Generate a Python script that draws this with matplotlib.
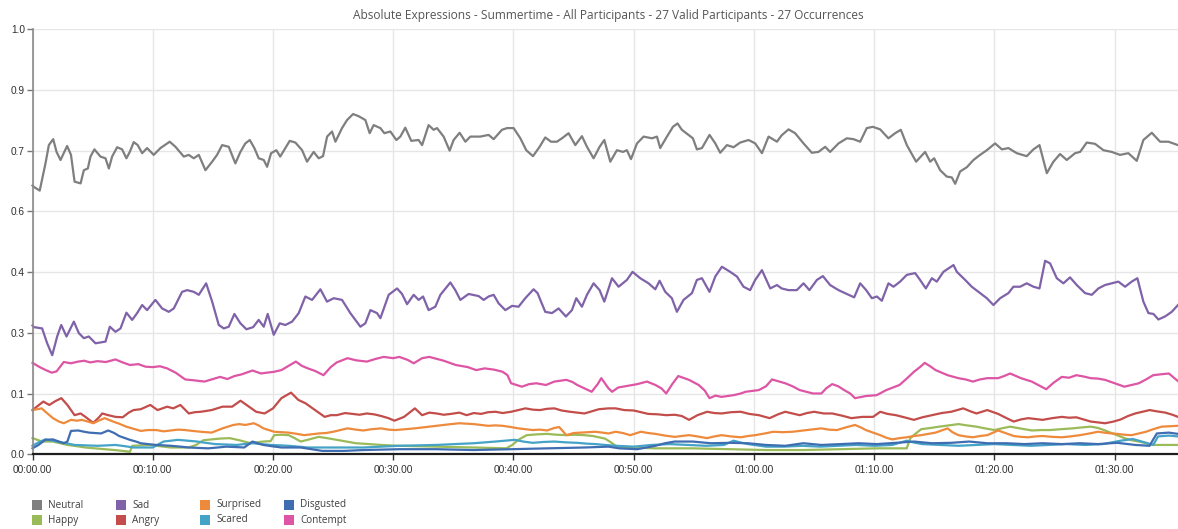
import matplotlib
matplotlib.use("Agg")
import matplotlib.pyplot as plt
from matplotlib import font_manager
from matplotlib.patches import Rectangle
from matplotlib.ticker import FixedLocator, FixedFormatter

# ---- data: time in minutes, value as fraction of participants ----
neutral_t = [0.0, 0.1, 0.6, 1.08, 1.36, 1.72, 2.0, 2.33, 2.6, 2.88, 3.2, 3.5, 4.0, 4.27, 4.6, 4.82, 5.15, 5.65,
             6.07, 6.35, 6.62, 7.04, 7.45, 7.81, 8.09, 8.42, 8.75, 9.12, 9.53, 10.08, 10.64, 11.41, 11.89, 12.58,
             12.99, 13.41, 13.83, 14.38, 14.94, 15.35, 15.77, 16.32, 16.87, 17.29, 17.7, 18.07, 18.45, 18.81,
             19.23, 19.51, 19.84, 20.28, 20.6, 21.03, 21.39, 21.86, 22.42, 22.83, 23.38, 23.8, 24.16, 24.5, 24.91,
             25.19, 25.74, 26.16, 26.66, 27.12, 27.68, 28.04, 28.37, 28.93, 29.26, 29.76, 30.26, 30.59, 31.0,
             31.5, 32.11, 32.4, 32.94, 33.36, 33.64, 34.19, 34.69, 35.02, 35.52, 36.0, 36.41, 37.24, 37.93, 38.35,
             39.04, 39.46, 40.01, 40.57, 41.06, 41.62, 42.17, 42.64, 43.12, 43.61, 44.03, 44.58, 45.14, 45.69,
             46.11, 46.66, 47.16, 47.55, 48.05, 48.6, 49.1, 49.43, 49.77, 50.27, 50.82, 51.51, 51.93, 52.2, 52.76,
             53.26, 53.64, 54.0, 54.56, 54.92, 55.25, 55.67, 56.3, 56.78, 57.19, 57.75, 58.3, 58.85, 59.55, 60.1,
             60.66, 61.21, 61.91, 62.3, 62.87, 63.42, 64.12, 64.81, 65.36, 65.92, 66.33, 67.03, 67.72, 68.27,
             68.83, 69.38, 69.88, 70.49, 71.18, 71.74, 72.21, 72.71, 73.48, 74.23, 74.65, 74.98, 75.48, 76.03,
             76.45, 76.73, 77.14, 77.7, 78.25, 78.8, 79.36, 80.05, 80.61, 81.16, 81.85, 82.68, 83.24, 83.74,
             84.35, 84.9, 85.45, 86.01, 86.7, 87.12, 87.67, 88.36, 89.06, 89.75, 90.44, 91.13, 91.83, 92.38,
             93.08, 93.77, 94.46, 95.26]
neutral_v = [0.632, 0.629, 0.620, 0.684, 0.727, 0.741, 0.711, 0.692, 0.708, 0.725, 0.704, 0.641, 0.637, 0.668,
             0.672, 0.700, 0.717, 0.700, 0.696, 0.672, 0.700, 0.722, 0.717, 0.696, 0.711, 0.734, 0.727, 0.708,
             0.720, 0.704, 0.720, 0.735, 0.723, 0.700, 0.704, 0.696, 0.704, 0.668, 0.688, 0.704, 0.727, 0.723,
             0.684, 0.711, 0.731, 0.739, 0.720, 0.696, 0.692, 0.676, 0.708, 0.715, 0.700, 0.720, 0.737, 0.733,
             0.715, 0.688, 0.711, 0.696, 0.701, 0.747, 0.759, 0.735, 0.767, 0.786, 0.800, 0.795, 0.786, 0.755,
             0.774, 0.767, 0.755, 0.759, 0.739, 0.747, 0.768, 0.737, 0.739, 0.727, 0.774, 0.763, 0.767, 0.747,
             0.714, 0.739, 0.756, 0.735, 0.747, 0.747, 0.751, 0.741, 0.763, 0.767, 0.767, 0.743, 0.715, 0.701,
             0.723, 0.745, 0.735, 0.735, 0.743, 0.755, 0.727, 0.748, 0.723, 0.696, 0.723, 0.739, 0.688, 0.715,
             0.711, 0.715, 0.694, 0.731, 0.747, 0.743, 0.747, 0.720, 0.747, 0.770, 0.778, 0.763, 0.751, 0.743,
             0.717, 0.720, 0.751, 0.731, 0.709, 0.727, 0.722, 0.733, 0.739, 0.731, 0.708, 0.747, 0.735, 0.750,
             0.764, 0.755, 0.731, 0.709, 0.711, 0.723, 0.711, 0.731, 0.743, 0.741, 0.735, 0.767, 0.770, 0.764,
             0.743, 0.755, 0.763, 0.727, 0.688, 0.711, 0.688, 0.696, 0.668, 0.653, 0.651, 0.636, 0.665, 0.675,
             0.692, 0.704, 0.715, 0.731, 0.717, 0.720, 0.708, 0.701, 0.717, 0.727, 0.661, 0.688, 0.706, 0.692,
             0.708, 0.711, 0.733, 0.730, 0.715, 0.711, 0.704, 0.708, 0.690, 0.739, 0.756, 0.735, 0.735, 0.727]

sad_t = [0.0, 0.11, 0.8, 1.22, 1.64, 2.05, 2.39, 2.83, 3.44, 3.85, 4.27, 4.68, 5.24, 6.07, 6.43, 6.9, 7.32, 7.81,
         8.29, 8.7, 9.12, 9.53, 10.22, 10.78, 11.33, 11.75, 12.44, 12.86, 13.41, 13.83, 14.44, 14.94, 15.49,
         15.91, 16.32, 16.79, 17.29, 17.79, 18.35, 18.81, 19.23, 19.56, 20.06, 20.56, 21.03, 21.59, 22.14, 22.69,
         23.25, 23.94, 24.49, 25.05, 25.74, 26.43, 27.27, 27.68, 28.1, 28.65, 28.93, 29.62, 30.32, 30.73, 31.15,
         31.7, 32.11, 32.48, 32.94, 33.5, 33.92, 34.75, 35.16, 35.58, 36.27, 37.1, 37.52, 37.93, 38.35, 38.76,
         39.32, 39.88, 40.42, 40.98, 41.67, 42.0, 42.64, 43.2, 43.75, 44.36, 44.86, 45.22, 45.69, 46.11, 46.66,
         47.16, 47.55, 48.19, 48.74, 49.43, 49.9, 50.54, 51.23, 51.79, 52.15, 52.62, 53.17, 53.59, 54.14, 54.84,
         55.25, 55.67, 56.3, 56.78, 57.33, 58.02, 58.58, 59.13, 59.68, 60.1, 60.66, 61.35, 61.91, 62.3, 62.87,
         63.56, 64.12, 64.61, 65.23, 65.73, 66.33, 67.03, 67.72, 68.33, 68.83, 69.33, 69.8, 70.22, 70.63, 71.18,
         71.6, 72.15, 72.71, 73.4, 73.81, 74.29, 74.79, 75.2, 75.75, 76.59, 76.87, 77.56, 78.11, 78.67, 79.36,
         79.91, 80.47, 81.16, 81.57, 82.13, 82.68, 83.24, 83.74, 84.21, 84.62, 85.18, 85.73, 86.28, 86.84, 87.53,
         88.09, 88.64, 89.19, 89.75, 90.3, 90.86, 91.41, 91.88, 92.38, 92.8, 93.22, 93.63, 94.18, 94.74, 95.26]
sad_v = [0.303, 0.299, 0.296, 0.261, 0.233, 0.277, 0.304, 0.277, 0.312, 0.285, 0.273, 0.277, 0.261, 0.265, 0.300,
         0.288, 0.296, 0.333, 0.316, 0.332, 0.351, 0.339, 0.363, 0.343, 0.335, 0.343, 0.382, 0.386, 0.382, 0.375,
         0.402, 0.359, 0.304, 0.296, 0.300, 0.330, 0.308, 0.294, 0.299, 0.316, 0.300, 0.330, 0.281, 0.308, 0.304,
         0.312, 0.332, 0.371, 0.363, 0.388, 0.359, 0.367, 0.363, 0.332, 0.300, 0.308, 0.339, 0.332, 0.320, 0.375,
         0.390, 0.377, 0.353, 0.375, 0.363, 0.371, 0.339, 0.347, 0.375, 0.404, 0.386, 0.363, 0.377, 0.372, 0.363,
         0.371, 0.375, 0.355, 0.339, 0.349, 0.347, 0.367, 0.388, 0.379, 0.335, 0.332, 0.343, 0.324, 0.339, 0.367,
         0.347, 0.375, 0.402, 0.386, 0.359, 0.414, 0.394, 0.410, 0.429, 0.414, 0.402, 0.388, 0.408, 0.382, 0.367,
         0.335, 0.363, 0.379, 0.410, 0.414, 0.382, 0.418, 0.441, 0.429, 0.418, 0.394, 0.386, 0.410, 0.433, 0.390,
         0.398, 0.390, 0.386, 0.386, 0.402, 0.386, 0.410, 0.419, 0.398, 0.386, 0.377, 0.369, 0.402, 0.386, 0.367,
         0.371, 0.361, 0.402, 0.394, 0.406, 0.422, 0.426, 0.410, 0.390, 0.414, 0.406, 0.429, 0.445, 0.429, 0.410,
         0.394, 0.382, 0.367, 0.351, 0.367, 0.379, 0.394, 0.394, 0.402, 0.394, 0.390, 0.455, 0.449, 0.414, 0.402,
         0.416, 0.398, 0.379, 0.375, 0.390, 0.398, 0.402, 0.406, 0.394, 0.406, 0.414, 0.359, 0.332, 0.330, 0.317,
         0.324, 0.335, 0.351]

contempt_t = [0.0, 0.6, 1.1, 1.6, 2.0, 2.6, 3.2, 3.8, 4.3, 4.8, 5.4, 6.1, 6.9, 7.5, 8.1, 8.8, 9.4, 10.0, 10.6,
              11.2, 11.9, 12.7, 13.4, 14.3, 14.9, 15.6, 16.2, 16.8, 17.4, 18.3, 19.0, 19.5, 20.1, 20.7, 21.3,
              21.9, 22.4, 22.9, 23.5, 24.2, 24.8, 25.3, 26.2, 26.9, 27.8, 28.5, 29.2, 30.0, 30.5, 31.2, 31.7,
              32.4, 33.0, 34.2, 35.2, 36.2, 36.9, 37.6, 38.4, 39.1, 39.5, 39.8, 40.7, 41.3, 41.9, 42.7, 43.4,
              44.4, 44.9, 45.3, 45.9, 46.5, 47.0, 47.3, 47.9, 48.2, 48.7, 49.1, 49.7, 50.3, 51.1, 51.8, 52.3,
              52.7, 53.2, 53.7, 54.1, 54.6, 55.4, 55.9, 56.3, 56.8, 57.3, 58.3, 58.9, 59.3, 60.4, 61.0, 61.5,
              62.0, 62.6, 63.2, 63.8, 64.9, 65.6, 66.0, 66.5, 67.0, 67.5, 68.0, 68.4, 69.3, 70.2, 71.0, 72.1,
              72.7, 73.3, 73.8, 74.2, 74.7, 75.1, 76.1, 77.0, 77.6, 78.2, 78.8, 79.4, 80.3, 80.8, 81.3, 81.7,
              82.2, 83.1, 83.7, 84.3, 84.9, 85.6, 86.2, 86.8, 87.4, 88.0, 88.6, 89.2, 90.0, 90.8, 91.4, 92.0,
              92.6, 93.2, 93.8, 94.5, 95.26]
contempt_v = [0.215, 0.205, 0.198, 0.192, 0.195, 0.217, 0.214, 0.218, 0.220, 0.216, 0.219, 0.217, 0.223, 0.216,
              0.210, 0.212, 0.206, 0.205, 0.207, 0.202, 0.192, 0.176, 0.174, 0.171, 0.176, 0.182, 0.177, 0.184,
              0.188, 0.197, 0.190, 0.192, 0.194, 0.198, 0.208, 0.218, 0.208, 0.202, 0.196, 0.186, 0.205, 0.216,
              0.226, 0.221, 0.218, 0.224, 0.229, 0.226, 0.229, 0.222, 0.214, 0.226, 0.229, 0.220, 0.210, 0.205,
              0.198, 0.202, 0.199, 0.194, 0.186, 0.167, 0.159, 0.165, 0.167, 0.163, 0.171, 0.175, 0.170, 0.163,
              0.155, 0.147, 0.165, 0.179, 0.155, 0.147, 0.157, 0.159, 0.162, 0.165, 0.171, 0.163, 0.155, 0.143,
              0.165, 0.184, 0.180, 0.175, 0.163, 0.150, 0.132, 0.138, 0.135, 0.139, 0.143, 0.147, 0.151, 0.160,
              0.176, 0.172, 0.167, 0.160, 0.151, 0.143, 0.143, 0.155, 0.165, 0.160, 0.151, 0.143, 0.132, 0.137,
              0.139, 0.151, 0.163, 0.178, 0.194, 0.205, 0.215, 0.206, 0.198, 0.186, 0.179, 0.176, 0.171, 0.176,
              0.179, 0.179, 0.184, 0.190, 0.185, 0.179, 0.171, 0.162, 0.153, 0.168, 0.182, 0.180, 0.186, 0.183,
              0.179, 0.178, 0.175, 0.167, 0.159, 0.163, 0.167, 0.176, 0.186, 0.188, 0.190, 0.172]

angry_t = [0.0, 0.9, 1.4, 1.9, 2.4, 2.9, 3.5, 4.0, 4.4, 5.05, 5.5, 5.8, 6.3, 6.9, 7.5, 8.0, 8.4, 9.0, 9.8, 10.4,
           11.2, 11.7, 12.3, 13.0, 13.5, 14.0, 14.9, 15.8, 16.6, 17.3, 18.0, 18.6, 19.3, 20.0, 20.7, 21.5, 22.1,
           22.7, 23.5, 24.3, 24.8, 25.3, 26.0, 26.6, 27.2, 27.8, 28.4, 29.0, 29.6, 30.1, 30.9, 31.8, 32.4, 33.0,
           33.6, 34.2, 34.8, 35.5, 36.1, 36.7, 37.3, 37.9, 38.5, 39.1, 39.8, 40.4, 41.0, 41.6, 42.2, 42.8, 43.4,
           44.0, 44.7, 45.3, 45.9, 46.5, 47.1, 47.9, 48.5, 49.2, 50.0, 50.6, 51.2, 52.0, 52.7, 53.4, 54.0, 54.6,
           55.3, 56.1, 56.7, 57.3, 58.1, 58.9, 59.6, 60.4, 61.3, 62.0, 62.6, 63.2, 63.8, 64.4, 65.0, 65.8, 66.5,
           67.3, 68.1, 69.0, 69.9, 70.5, 71.1, 71.8, 72.5, 73.3, 74.0, 74.8, 75.6, 76.4, 77.4, 78.0, 78.5, 79.4,
           80.3, 81.0, 81.6, 82.2, 82.8, 83.4, 84.0, 84.8, 85.6, 86.2, 86.8, 87.4, 88.0, 88.6, 89.2, 89.9, 90.5,
           91.1, 91.7, 92.3, 92.9, 93.5, 94.2, 94.8, 95.26]
angry_v = [0.104, 0.124, 0.116, 0.125, 0.132, 0.116, 0.092, 0.096, 0.088, 0.074, 0.086, 0.096, 0.092, 0.088, 0.087,
           0.098, 0.104, 0.106, 0.116, 0.104, 0.112, 0.108, 0.116, 0.096, 0.099, 0.100, 0.104, 0.112, 0.112, 0.126,
           0.112, 0.100, 0.096, 0.108, 0.132, 0.145, 0.128, 0.120, 0.104, 0.088, 0.092, 0.092, 0.097, 0.095, 0.093,
           0.096, 0.094, 0.090, 0.085, 0.079, 0.088, 0.108, 0.092, 0.098, 0.096, 0.093, 0.095, 0.098, 0.092, 0.097,
           0.095, 0.099, 0.100, 0.097, 0.100, 0.104, 0.108, 0.105, 0.104, 0.107, 0.108, 0.103, 0.100, 0.098, 0.096,
           0.101, 0.106, 0.108, 0.108, 0.104, 0.103, 0.099, 0.095, 0.094, 0.092, 0.093, 0.090, 0.081, 0.092, 0.100,
           0.097, 0.096, 0.099, 0.100, 0.095, 0.092, 0.085, 0.094, 0.100, 0.096, 0.092, 0.097, 0.100, 0.096, 0.096,
           0.091, 0.085, 0.088, 0.088, 0.100, 0.095, 0.092, 0.087, 0.081, 0.087, 0.092, 0.097, 0.100, 0.108, 0.101,
           0.096, 0.104, 0.095, 0.085, 0.077, 0.082, 0.085, 0.083, 0.081, 0.085, 0.088, 0.086, 0.087, 0.082, 0.077,
           0.075, 0.073, 0.077, 0.082, 0.090, 0.096, 0.100, 0.104, 0.101, 0.098, 0.093, 0.088]

surprised_t = [0.0, 0.76, 1.2, 1.7, 2.2, 2.6, 3.2, 3.7, 4.1, 4.6, 5.05, 5.5, 6.0, 6.7, 7.2, 7.8, 8.4, 9.0, 9.6,
               10.3, 10.9, 11.5, 12.1, 12.7, 13.3, 14.0, 14.9, 15.8, 16.7, 17.2, 17.7, 18.4, 18.8, 19.2, 20.1,
               20.7, 21.3, 22.0, 22.6, 23.2, 23.8, 24.4, 25.0, 25.6, 26.2, 26.9, 27.5, 28.2, 29.0, 29.6, 30.2,
               31.0, 31.8, 32.4, 33.0, 33.6, 34.2, 34.8, 35.5, 36.1, 36.7, 37.3, 37.9, 38.5, 39.1, 39.8, 40.4,
               41.0, 41.6, 42.2, 42.8, 43.4, 43.8, 44.4, 45.0, 45.6, 46.2, 46.8, 47.4, 47.9, 48.5, 49.1, 49.7,
               50.6, 51.2, 51.8, 52.6, 53.4, 54.0, 54.6, 55.3, 56.1, 56.7, 57.3, 58.1, 58.9, 59.5, 60.1, 60.9,
               61.6, 62.4, 63.2, 63.8, 64.4, 65.0, 65.6, 66.2, 66.9, 67.6, 68.4, 68.9, 69.3, 69.9, 70.5, 71.0,
               71.5, 72.1, 72.7, 73.3, 73.9, 74.5, 75.1, 75.6, 76.1, 76.5, 77.0, 77.6, 78.2, 78.8, 79.4, 79.9,
               80.3, 80.9, 81.6, 82.2, 82.8, 83.4, 84.0, 84.8, 85.6, 86.3, 87.1, 87.9, 88.6, 89.4, 90.2, 90.8,
               91.4, 92.0, 92.6, 93.2, 93.9, 94.6, 95.26]
surprised_v = [0.104, 0.108, 0.097, 0.085, 0.077, 0.073, 0.081, 0.079, 0.081, 0.077, 0.073, 0.079, 0.085, 0.077,
               0.072, 0.065, 0.060, 0.055, 0.057, 0.057, 0.054, 0.056, 0.058, 0.057, 0.055, 0.053, 0.051, 0.061,
               0.069, 0.071, 0.069, 0.073, 0.068, 0.061, 0.053, 0.052, 0.051, 0.048, 0.045, 0.047, 0.049, 0.050,
               0.053, 0.057, 0.061, 0.058, 0.056, 0.059, 0.061, 0.058, 0.057, 0.059, 0.061, 0.063, 0.065, 0.067,
               0.069, 0.071, 0.073, 0.072, 0.071, 0.069, 0.067, 0.068, 0.067, 0.064, 0.061, 0.059, 0.057, 0.058,
               0.056, 0.062, 0.064, 0.045, 0.050, 0.051, 0.052, 0.053, 0.051, 0.049, 0.053, 0.050, 0.045, 0.053,
               0.050, 0.048, 0.044, 0.041, 0.043, 0.045, 0.042, 0.038, 0.042, 0.045, 0.042, 0.040, 0.043, 0.045,
               0.049, 0.053, 0.052, 0.053, 0.055, 0.057, 0.059, 0.061, 0.058, 0.057, 0.063, 0.069, 0.063, 0.057,
               0.051, 0.045, 0.039, 0.035, 0.038, 0.040, 0.043, 0.045, 0.048, 0.051, 0.056, 0.061, 0.052, 0.045,
               0.042, 0.040, 0.043, 0.045, 0.051, 0.056, 0.050, 0.043, 0.041, 0.040, 0.042, 0.043, 0.041, 0.040,
               0.042, 0.045, 0.049, 0.053, 0.050, 0.048, 0.046, 0.045, 0.049, 0.053, 0.059, 0.065, 0.066, 0.067]

happy_t = [0.0, 0.8, 1.7, 2.3, 2.9, 3.7, 4.4, 5.2, 6.0, 6.8, 7.5, 8.1, 8.3, 9.0, 9.7, 10.6, 11.5, 12.3, 13.0, 13.6,
           14.2, 14.9, 15.6, 16.4, 17.2, 18.0, 18.6, 19.2, 19.8, 20.1, 20.7, 21.3, 21.8, 22.3, 23.0, 23.8, 24.5,
           25.3, 26.1, 26.9, 28.0, 29.0, 30.5, 32.0, 33.6, 35.1, 36.7, 38.1, 39.4, 39.9, 40.4, 41.1, 42.0, 42.8,
           43.6, 44.4, 45.1, 45.9, 46.6, 47.1, 47.6, 48.0, 48.5, 49.0, 49.7, 50.8, 51.8, 53.3, 54.9, 56.4, 58.0,
           59.5, 61.0, 62.6, 64.1, 65.6, 67.2, 68.7, 70.2, 71.5, 72.7, 73.0, 73.5, 73.9, 74.7, 75.4, 76.2, 77.0,
           77.7, 78.5, 79.2, 80.0, 80.6, 81.3, 82.1, 83.1, 83.9, 84.6, 85.5, 86.5, 87.2, 88.0, 88.6, 89.2, 90.0,
           90.8, 91.4, 92.0, 92.6, 93.2, 94.2, 95.26]
happy_v = [0.038, 0.030, 0.030, 0.026, 0.022, 0.019, 0.016, 0.014, 0.012, 0.010, 0.008, 0.006, 0.020, 0.021, 0.022,
           0.019, 0.016, 0.016, 0.016, 0.022, 0.033, 0.035, 0.037, 0.038, 0.033, 0.027, 0.028, 0.030, 0.031, 0.045,
           0.046, 0.045, 0.038, 0.030, 0.035, 0.041, 0.038, 0.034, 0.030, 0.026, 0.024, 0.022, 0.020, 0.019, 0.018,
           0.017, 0.016, 0.015, 0.014, 0.022, 0.034, 0.045, 0.047, 0.048, 0.046, 0.045, 0.046, 0.045, 0.043, 0.040,
           0.037, 0.030, 0.020, 0.017, 0.016, 0.015, 0.014, 0.014, 0.014, 0.013, 0.012, 0.011, 0.010, 0.010, 0.010,
           0.011, 0.012, 0.013, 0.014, 0.014, 0.014, 0.038, 0.050, 0.059, 0.062, 0.065, 0.068, 0.071, 0.068, 0.065,
           0.061, 0.057, 0.061, 0.065, 0.061, 0.056, 0.057, 0.057, 0.059, 0.061, 0.063, 0.065, 0.062, 0.056, 0.047,
           0.038, 0.033, 0.030, 0.026, 0.022, 0.022, 0.022]

disgusted_t = [0.0, 0.5, 1.06, 1.7, 2.2, 2.6, 2.9, 3.2, 3.8, 4.3, 4.7, 5.2, 5.7, 6.3, 6.8, 7.2, 7.7, 8.1, 8.6, 9.0,
               9.6, 10.3, 10.9, 11.5, 12.3, 13.0, 13.8, 14.6, 15.4, 16.1, 16.9, 17.6, 18.3, 18.7, 19.2, 19.9, 20.7,
               21.5, 22.3, 23.2, 24.1, 25.0, 25.9, 26.7, 27.5, 29.0, 30.5, 32.0, 33.6, 35.1, 36.7, 38.2, 39.8, 41.3,
               42.8, 44.4, 45.9, 47.9, 48.8, 50.3, 51.8, 52.6, 53.4, 54.9, 56.4, 58.0, 59.5, 61.0, 62.6, 64.1, 65.6,
               67.2, 68.7, 70.2, 71.8, 73.3, 74.8, 76.4, 77.9, 79.4, 81.0, 82.5, 84.0, 85.6, 87.1, 88.6, 90.2, 91.7,
               92.9, 93.2, 93.5, 94.5, 95.26]
disgusted_v = [0.014, 0.022, 0.034, 0.035, 0.030, 0.026, 0.030, 0.055, 0.056, 0.053, 0.051, 0.050, 0.049, 0.056,
               0.050, 0.043, 0.038, 0.034, 0.030, 0.026, 0.024, 0.022, 0.021, 0.020, 0.018, 0.016, 0.015, 0.014,
               0.016, 0.018, 0.017, 0.016, 0.030, 0.026, 0.022, 0.019, 0.016, 0.016, 0.016, 0.012, 0.008, 0.008,
               0.008, 0.009, 0.010, 0.011, 0.012, 0.012, 0.012, 0.011, 0.010, 0.011, 0.012, 0.013, 0.014, 0.015,
               0.016, 0.018, 0.014, 0.012, 0.020, 0.026, 0.030, 0.030, 0.026, 0.027, 0.026, 0.022, 0.020, 0.026,
               0.022, 0.024, 0.026, 0.024, 0.027, 0.030, 0.026, 0.027, 0.030, 0.026, 0.026, 0.024, 0.026, 0.024,
               0.026, 0.024, 0.027, 0.022, 0.020, 0.035, 0.049, 0.051, 0.048]

scared_t = [0.0, 0.5, 1.06, 1.5, 2.0, 2.8, 3.5, 4.4, 5.4, 6.2, 6.9, 7.7, 8.4, 9.2, 10.0, 10.5, 10.9, 11.5, 12.1,
            12.9, 13.7, 14.4, 15.2, 16.1, 17.0, 17.6, 18.3, 19.0, 19.8, 20.6, 21.3, 22.1, 22.9, 24.4, 26.0, 27.5,
            29.0, 30.5, 32.1, 33.6, 35.1, 36.7, 37.6, 38.5, 39.3, 40.1, 40.8, 41.6, 42.5, 43.4, 44.4, 45.3, 46.1,
            46.8, 47.6, 48.5, 50.0, 51.5, 53.0, 54.5, 56.0, 57.5, 58.3, 59.0, 59.5, 61.0, 62.5, 64.0, 65.5, 67.0,
            68.5, 70.0, 71.5, 72.7, 73.4, 74.0, 75.5, 77.0, 78.5, 80.0, 81.5, 83.0, 84.5, 86.0, 87.5, 89.0, 90.5,
            91.5, 92.5, 93.2, 93.6, 94.5, 95.26]
scared_v = [0.020, 0.028, 0.035, 0.033, 0.030, 0.026, 0.022, 0.021, 0.020, 0.021, 0.022, 0.019, 0.016, 0.016, 0.016,
            0.024, 0.030, 0.032, 0.034, 0.032, 0.030, 0.027, 0.024, 0.023, 0.022, 0.024, 0.026, 0.024, 0.022, 0.021,
            0.020, 0.018, 0.016, 0.016, 0.016, 0.016, 0.018, 0.020, 0.021, 0.022, 0.024, 0.026, 0.028, 0.030, 0.032,
            0.034, 0.030, 0.027, 0.029, 0.030, 0.028, 0.027, 0.025, 0.024, 0.022, 0.020, 0.018, 0.022, 0.024, 0.022,
            0.020, 0.022, 0.032, 0.027, 0.024, 0.018, 0.018, 0.020, 0.018, 0.020, 0.022, 0.020, 0.022, 0.032, 0.027,
            0.024, 0.022, 0.020, 0.022, 0.024, 0.022, 0.020, 0.022, 0.024, 0.022, 0.024, 0.032, 0.036, 0.028, 0.022,
            0.042, 0.044, 0.042]

series = [
    ("Neutral", neutral_t, neutral_v, "#7f7f7f"),
    ("Happy", happy_t, happy_v, "#9bbb59"),
    ("Sad", sad_t, sad_v, "#7f62a8"),
    ("Angry", angry_t, angry_v, "#c24d4a"),
    ("Surprised", surprised_t, surprised_v, "#ee8a3c"),
    ("Scared", scared_t, scared_v, "#44a3c6"),
    ("Disgusted", disgusted_t, disgusted_v, "#3f6db2"),
    ("Contempt", contempt_t, contempt_v, "#dd55a4"),
]

title = "Absolute Expressions - Summertime - All Participants - 27 Valid Participants - 27 Occurrences"
x_end = 95.26
x_ticks = list(range(0, 100, 10))
y_ticks = [k / 7 for k in range(8)]

# ---- fonts ----
installed = {f.name for f in font_manager.fontManager.ttflist}
tick_font = "Liberation Sans Narrow" if "Liberation Sans Narrow" in installed else "Liberation Sans"
text_font = "Open Sans" if "Open Sans" in installed else "DejaVu Sans"

# ---- figure / axes geometry (pixels) ----
W, H = 1178, 529
fig = plt.figure(figsize=(W / 100, H / 100), dpi=100)
left_px, right_px, top_px, base_px = 32.5, 1178.0, 29.0, 454.3
ax = fig.add_axes([left_px / W, 1 - base_px / H, (right_px - left_px) / W, (base_px - top_px) / H])

for name, t, v, col in series:
    ax.plot(t, v, color=col, lw=1.6, solid_joinstyle="round", label=name, clip_on=False)

ax.set_xlim(0, x_end)
ax.set_ylim(0, 1)

def fmt_time(m):
    return f"{m // 60:02d}:{m % 60:02d}.00"

ax.xaxis.set_major_locator(FixedLocator(x_ticks))
ax.xaxis.set_major_formatter(FixedFormatter([fmt_time(m) for m in x_ticks]))
ax.yaxis.set_major_locator(FixedLocator(y_ticks))
ax.yaxis.set_major_formatter(FixedFormatter([f"{v:.1f}" for v in y_ticks]))

ax.grid(True, color="#e6e6e6", lw=1.0, zorder=0)
ax.set_axisbelow(True)
for s in ("top", "right"):
    ax.spines[s].set_visible(False)
ax.spines["left"].set_color("#8a8a8a")
ax.spines["left"].set_linewidth(1.2)
ax.spines["bottom"].set_color("#1e1e1e")
ax.spines["bottom"].set_linewidth(1.6)
ax.tick_params(axis="x", direction="out", length=4, width=1.0, color="#333333", pad=4,
               labelsize=7.3, labelcolor="#303030")
ax.tick_params(axis="y", direction="out", length=4, width=1.0, color="#777777", pad=1.5,
               labelsize=7.3, labelcolor="#303030")
for lab in ax.get_xticklabels() + ax.get_yticklabels():
    lab.set_fontfamily(tick_font)

fig.text(608 / W, 1 - 16 / H, title, ha="center", va="center", fontsize=8.6,
         color="#555555", family=text_font)

# ---- legend: two rows, four columns of swatches ----
col_x = [32, 116, 200, 284]
row_y = [505, 520]
for i, (name, _, _, col) in enumerate(series):
    cx = col_x[i // 2]
    cy = row_y[i % 2]
    fig.patches.append(Rectangle((cx / W, 1 - (cy + 5) / H), 10 / W, 10 / H,
                                 transform=fig.transFigure, facecolor=col, edgecolor="none"))
    fig.text((cx + 16) / W, 1 - cy / H, name, ha="left", va="center", fontsize=7.2,
             color="#404040", family=text_font)

fig.savefig("out.png", dpi=100)
